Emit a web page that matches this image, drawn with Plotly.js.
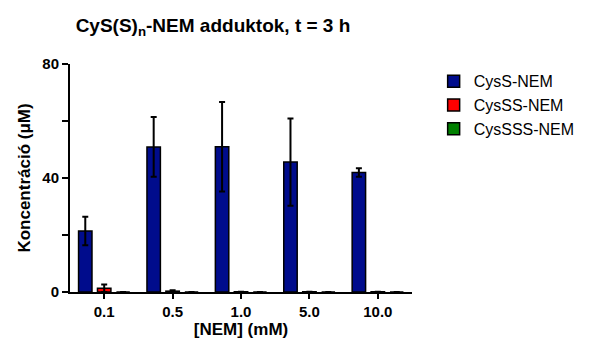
<!DOCTYPE html>
<html>
<head>
<meta charset="utf-8">
<script src="https://cdn.plot.ly/plotly-3.0.1.min.js"></script>
<style>html,body{margin:0;padding:0;background:#fff;}#chart{width:590px;height:344px;}</style>
</head>
<body>
<div id="chart"></div>
<script>
const categories = ["0.1", "0.5", "1.0", "5.0", "10.0"];
const seriesNames = ["CysS-NEM", "CysSS-NEM", "CysSSS-NEM"];
const cysS = [21.4, 50.9, 51.0, 45.6, 41.9];
const cysSErr = [5.0, 10.5, 15.7, 15.3, 1.5];
const cysSS = [1.3, 0.3, 0.1, 0.1, 0.1];
const cysSSErr = [1.3, 0.3, 0.0, 0.0, 0.0];
const cysSSS = [0, 0, 0, 0, 0];
const cysSSSErr = [0, 0, 0, 0, 0];
const yTickVals = [0, 20, 40, 60, 80];
const yTickText = ["<b>0</b>", "", "<b>40</b>", "", "<b>80</b>"];
const colors = ["#000c8c", "#ff0000", "#008000"];

const values = [cysS, cysSS, cysSSS];
const errs = [cysSErr, cysSSErr, cysSSSErr];

const traces = seriesNames.map((name, i) => ({
  type: 'bar',
  name: name,
  legendgroup: 'g' + i,
  x: categories,
  y: values[i],
  marker: {color: colors[i], line: {color: '#000', width: 1.5}},
  error_y: {type: 'data', array: errs[i], visible: true, color: '#000', thickness: 2, width: 3}
}));

const font = "'Liberation Sans', Arial, sans-serif";
const layout = {
  width: 590, height: 344,
  margin: {l: 70, r: 178, t: 64, b: 52},
  paper_bgcolor: '#fff', plot_bgcolor: '#fff',
  font: {family: font, color: '#000', size: 14},
  barmode: 'group',
  bargap: 0.17,
  bargroupgap: 0.29,
  title: {text: '<b>CyS(S)<sub>n</sub>-NEM adduktok, t = 3 h</b>', font: {size: 19, family: font, color: '#000'},
          xref: 'container', x: 0.361, xanchor: 'center', yref: 'container', y: 0.925, yanchor: 'middle'},
  xaxis: {
    type: 'category', categoryarray: categories, tickvals: categories,
    ticktext: categories.map(c => '<b>' + c + '</b>'),
    showline: true, linecolor: '#000', linewidth: 2, mirror: false,
    ticks: 'outside', ticklen: 5, tickwidth: 2, tickcolor: '#000',
    showgrid: false, zeroline: false,
    tickfont: {size: 15},
    title: {text: '<b>[NEM] (mM)</b>', font: {size: 17}, standoff: 3}
  },
  yaxis: {
    range: [0, 80], tickvals: yTickVals, ticktext: yTickText,
    showline: true, linecolor: '#000', linewidth: 2,
    ticks: 'outside', ticklen: 6, tickwidth: 2, tickcolor: '#000',
    showgrid: false, zeroline: false,
    tickfont: {size: 15},
    title: {text: '<b>Koncentráció (μM)</b>', font: {size: 17}, standoff: 7}
  },
  showlegend: true,
  legend: {xref: 'container', yref: 'container', x: 0.735, y: 0.813, xanchor: 'left', yanchor: 'top',
           font: {size: 16}, tracegroupgap: 5, traceorder: 'normal', bgcolor: 'rgba(0,0,0,0)'}
};

Plotly.newPlot('chart', traces, layout, {displayModeBar: false, staticPlot: true});
</script>
</body>
</html>
